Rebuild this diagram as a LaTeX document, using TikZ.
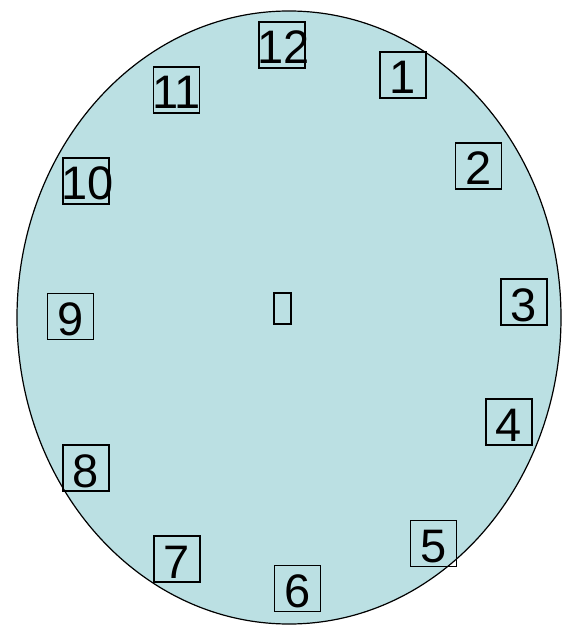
\documentclass[tikz,border=0pt]{standalone}
\usepackage{fontspec}
\setmainfont{Liberation Sans}
\usetikzlibrary{positioning}
\definecolor{dialblue}{RGB}{187,224,227}

\begin{document}
\begin{tikzpicture}[
			x = 1pt,
			y = -1pt,
			numbox/.style = {draw, line width=1.4pt, minimum size=46pt, inner sep=0pt,
				text height=38pt, text depth=0pt, font=\fontsize{47}{50}\selectfont},
			hubbox/.style = {draw, line width=1.4pt, minimum width=17pt, minimum height=31pt, inner sep=0pt}
			]
			\useasboundingbox (0,0) rectangle (564,628);
			
			% Define face
			\draw[fill=dialblue, line width=1.2pt] (289,317.5) ellipse [x radius=272pt, y radius=306.5pt];
			\node[hubbox] (hub) at (282.5,308.5) {};
			
			% Define hour marks
			\node[numbox] (h12) at (282,45) {\makebox[0pt]{\hspace{4pt}12}};
			\node[numbox] (h1) at (403,75) {1};
			\node[numbox] (h2) at (478.5,166) {2};
			\node[numbox] (h3) at (524,302) {3};
			\node[numbox] (h4) at (509,422) {4};
			\node[numbox] (h5) at (433.5,543.5) {5};
			\node[numbox] (h6) at (297.5,588.5) {6};
			\node[numbox] (h7) at (177,559) {7};
			\node[numbox] (h8) at (86,468) {8};
			\node[numbox] (h9) at (70.5,316.5) {9};
			\node[numbox] (h10) at (86,181) {\makebox[0pt]{\hspace{3pt}10}};
			\node[numbox] (h11) at (176.5,90) {\makebox[0pt]{11}};
			
		\end{tikzpicture}
\end{document}
